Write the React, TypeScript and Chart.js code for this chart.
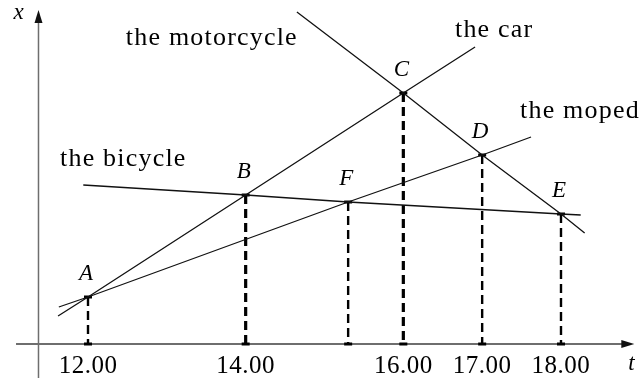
import React, { useEffect, useRef } from 'react';
import { Chart, registerables } from 'chart.js';

Chart.register(...registerables);

// ---- data (time in hours, distance in arbitrary units) ----
const pointNames = ['A', 'B', 'C', 'D', 'E', 'F'];
const pointTimes = [12, 14, 16, 17, 18, 15.3];
const pointDistances = [47, 149, 251, 189, 130, 142];

const carTimes = [11.62, 12, 14, 16, 16.91];
const carDistances = [28, 47, 149, 251, 297];

const mopedTimes = [11.63, 12, 15.3, 17, 17.62];
const mopedDistances = [37, 47, 142, 189, 207];

const bicycleTimes = [11.94, 14, 15.3, 18, 18.25];
const bicycleDistances = [159, 149, 142, 130, 129];

const motorcycleTimes = [14.65, 16, 17, 18, 18.3];
const motorcycleDistances = [332, 251, 189, 130, 111];

const tickValues = [12, 14, 16, 17, 18];
const tickLabels = ['12.00', '14.00', '16.00', '17.00', '18.00'];

const vehicleNames = ['the motorcycle', 'the car', 'the moped', 'the bicycle'];
const vehicleLabelTimes = [12.48, 16.655, 17.48, 11.645];
const vehicleLabelDistances = [299, 307, 226, 178];

// ---- scale extents ----
const T_MIN = 10.8837;
const T_MAX = 19.0275;
const D_MIN = -34;
const D_MAX = 344;

const AXIS_T = 11.372; // where the distance axis crosses
const AXIS_T_START = 11.087;
const AXIS_T_END = 18.93;
const AXIS_D_TOP = 334;

const SERIF = '"Liberation Serif", serif';

const zip = (ts: number[], ds: number[]) => ts.map((t, i) => ({ x: t, y: ds[i] }));

const thickDash = new Set(['B', 'C']);

const axesPlugin = {
  id: 'axesPlugin',
  beforeDatasetsDraw(chart: any) {
    const { ctx, scales } = chart;
    const xs = scales.x;
    const ys = scales.y;
    const y0 = ys.getPixelForValue(0);
    const xa = xs.getPixelForValue(AXIS_T);
    const xL = xs.getPixelForValue(AXIS_T_START);
    const xR = xs.getPixelForValue(AXIS_T_END);
    const yT = ys.getPixelForValue(AXIS_D_TOP);
    const yB = ys.getPixelForValue(D_MIN);
    ctx.save();
    ctx.strokeStyle = '#6e6e6e';
    ctx.lineWidth = 2;
    ctx.beginPath();
    ctx.moveTo(xL, y0);
    ctx.lineTo(xR - 8, y0);
    ctx.stroke();
    ctx.lineWidth = 1.5;
    ctx.beginPath();
    ctx.moveTo(xa, yB);
    ctx.lineTo(xa, yT + 8);
    ctx.stroke();
    ctx.fillStyle = '#111';
    ctx.beginPath();
    ctx.moveTo(xR, y0);
    ctx.lineTo(xR - 13, y0 - 4);
    ctx.lineTo(xR - 13, y0 + 4);
    ctx.closePath();
    ctx.fill();
    ctx.beginPath();
    ctx.moveTo(xa, yT);
    ctx.lineTo(xa - 4, yT + 13);
    ctx.lineTo(xa + 4, yT + 13);
    ctx.closePath();
    ctx.fill();
    ctx.restore();
  },
  afterDatasetsDraw(chart: any) {
    const { ctx, scales } = chart;
    const xs = scales.x;
    const ys = scales.y;
    const y0 = ys.getPixelForValue(0);
    ctx.save();
    ctx.fillStyle = '#000';
    ctx.textBaseline = 'alphabetic';
    // tick labels
    ctx.font = `25px ${SERIF}`;
    ctx.textAlign = 'center';
    try { (ctx as any).letterSpacing = '0.5px'; } catch (e) {}
    tickValues.forEach((v, i) => {
      ctx.fillText(tickLabels[i], xs.getPixelForValue(v), y0 + 29);
    });
    // vehicle names
    ctx.font = `26px ${SERIF}`;
    ctx.textAlign = 'left';
    try { (ctx as any).letterSpacing = '1.2px'; } catch (e) {}
    vehicleNames.forEach((n, i) => {
      ctx.fillText(n, xs.getPixelForValue(vehicleLabelTimes[i]), ys.getPixelForValue(vehicleLabelDistances[i]));
    });
    try { (ctx as any).letterSpacing = '0px'; } catch (e) {}
    // point names
    ctx.font = `italic 23px ${SERIF}`;
    ctx.textAlign = 'center';
    pointNames.forEach((n, i) => {
      ctx.fillText(n, xs.getPixelForValue(pointTimes[i]) - 2, ys.getPixelForValue(pointDistances[i]) - 17);
    });
    // axis names
    ctx.textAlign = 'left';
    ctx.fillText('x', xs.getPixelForValue(AXIS_T) - 25, ys.getPixelForValue(AXIS_D_TOP) + 9);
    ctx.fillText('t', xs.getPixelForValue(AXIS_T_END) - 6, y0 + 26);
    ctx.restore();
  },
};

export default function App() {
  const ref = useRef<HTMLCanvasElement | null>(null);

  useEffect(() => {
    if (!ref.current) return;
    const lineDs = (ts: number[], ds: number[]) => ({
      data: zip(ts, ds),
      showLine: true,
      borderColor: '#111',
      borderWidth: 1.3,
      pointRadius: 0,
      fill: false,
    });
    const dashDs = pointNames.map((n, i) => ({
      data: [
        { x: pointTimes[i], y: pointDistances[i] },
        { x: pointTimes[i], y: 0 },
      ],
      showLine: true,
      borderColor: '#000',
      borderWidth: thickDash.has(n) ? 3.2 : 2.4,
      borderDash: [9, 5],
      pointRadius: 0,
      fill: false,
    }));
    const markerData = [
      ...pointNames.map((_, i) => ({ x: pointTimes[i], y: pointDistances[i] })),
      ...pointNames.map((_, i) => ({ x: pointTimes[i], y: 0 })),
    ];
    const chart = new Chart(ref.current, {
      type: 'scatter',
      data: {
        datasets: [
          lineDs(carTimes, carDistances),
          lineDs(mopedTimes, mopedDistances),
          lineDs(bicycleTimes, bicycleDistances),
          lineDs(motorcycleTimes, motorcycleDistances),
          ...dashDs,
          {
            data: markerData,
            showLine: false,
            pointStyle: 'line',
            pointRadius: 4,
            pointBorderWidth: 3,
            pointBorderColor: '#000',
            pointBackgroundColor: '#000',
          },
        ] as any,
      },
      options: {
        animation: false,
        responsive: false,
        maintainAspectRatio: false,
        devicePixelRatio: 1,
        layout: { padding: 0, autoPadding: false },
        events: [],
        scales: {
          x: { type: 'linear', min: T_MIN, max: T_MAX, display: false },
          y: { type: 'linear', min: D_MIN, max: D_MAX, display: false },
        },
        plugins: {
          legend: { display: false },
          tooltip: { enabled: false },
        },
      } as any,
      plugins: [axesPlugin],
    });
    return () => chart.destroy();
  }, []);

  return (
    <div style={{ position: 'absolute', left: 0, top: 0, width: 642, height: 378, background: '#fff' }}>
      <canvas ref={ref} width={642} height={378} style={{ display: 'block' }} />
    </div>
  );
}
